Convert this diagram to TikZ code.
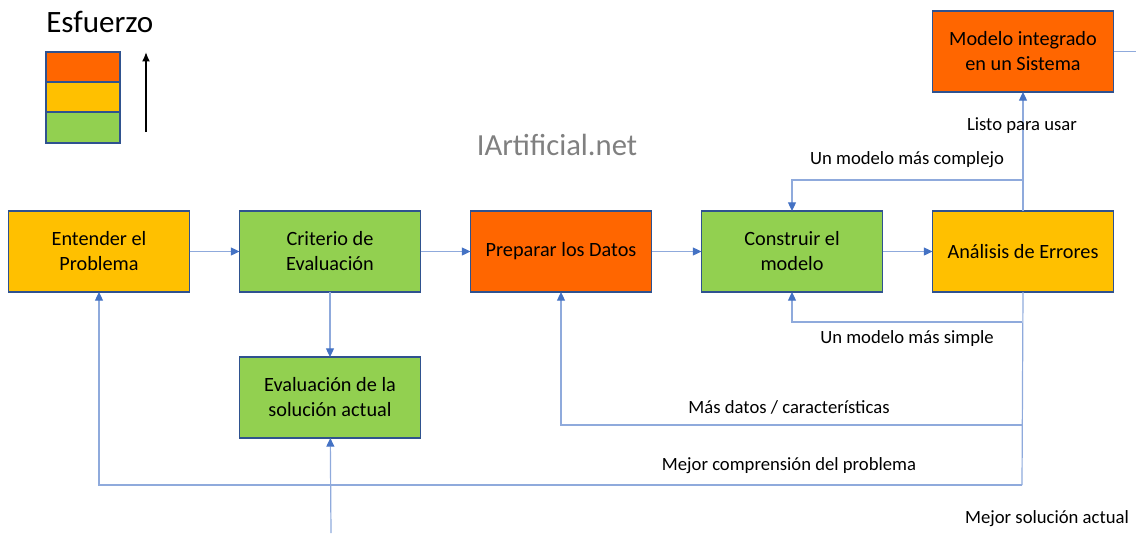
\documentclass[tikz,border=0pt]{standalone}
\usepackage{fontspec}
\setmainfont{Carlito}
\usetikzlibrary{positioning,arrows.meta,calc}
\definecolor{naranja}{HTML}{FF6600}
\definecolor{amarillo}{HTML}{FFC000}
\definecolor{verde}{HTML}{92D050}
\definecolor{borde}{HTML}{2F528F}
\definecolor{linea}{HTML}{8FAADC}
\definecolor{punta}{HTML}{4472C4}
\tikzset{
  paso/.style={draw=borde,line width=1pt,minimum width=135.75pt,minimum height=60.75pt,
    align=center,font=\fontsize{15.2}{18.75}\selectfont,inner sep=2pt,outer sep=0pt},
  flujo/.style={draw=linea,line width=0.9pt},
  flecha/.style={flujo,-{Triangle[width=6pt,length=6.5pt,color=punta]}},
  etiq/.style={font=\fontsize{14}{16}\selectfont,inner sep=0pt}
}
\begin{document}
\begin{tikzpicture}[x=0.75pt,y=-0.75pt,node distance=37.5pt]
  \useasboundingbox (0,0) rectangle (1136,533);
  % leyenda
  \node[font=\fontsize{23.3}{26}\selectfont,anchor=base west,inner sep=0pt] (esfuerzo) at (46,32) {Esfuerzo};
  \draw[borde,line width=1pt,fill=naranja] (46,52) rectangle (120,82);
  \draw[borde,line width=1pt,fill=amarillo] (46,82) rectangle (120,112);
  \draw[borde,line width=1pt,fill=verde] (46,112) rectangle (120,143);
  \draw[line width=1.8pt,-{Latex[length=7pt,width=6pt]}] (146,132) -- (146,52);
  \node[font=\fontsize{23}{26}\selectfont,text=black!50] (marca) at (557,145) {IArtificial.net};
  % pasos
  \node[paso,fill=amarillo] (entender) at (99,251.5) {Entender el\\Problema};
  \node[paso,fill=verde,right=of entender] (criterio) {Criterio de\\Evaluación};
  \node[paso,fill=naranja,right=of criterio] (preparar) {Preparar los Datos};
  \node[paso,fill=verde,right=of preparar] (construir) {Construir el\\modelo};
  \node[paso,fill=amarillo,right=of construir] (analisis) {Análisis de Errores};
  \node[paso,fill=verde,below=48.75pt of criterio] (evaluacion) {Evaluación de la\\solución actual};
  \node[paso,fill=naranja,above=89.25pt of analisis] (modelo) {Modelo integrado\\en un Sistema};
  % puntos de giro
  \coordinate (complejo) at (1022,180);
  \coordinate (simple) at (1022,322);
  \coordinate (datos) at (1022,425);
  \coordinate (comprension) at (1022,485);
  \coordinate (entrada) at (331,533);
  \coordinate (salida) at (1136,51.5);
  % conectores
  \draw[flecha] (entender) -- (criterio);
  \draw[flecha] (criterio) -- (preparar);
  \draw[flecha] (preparar) -- (construir);
  \draw[flecha] (construir) -- (analisis);
  \draw[flecha] (criterio) -- (evaluacion);
  \draw[flecha] (analisis) -- (modelo);
  \draw[flecha] (complejo) -| (construir.north);
  \draw[flujo] (modelo) -- (salida);
  \draw[flujo] (analisis.south) -- (comprension);
  \draw[flecha] (simple) -| (construir.south);
  \draw[flecha] (datos) -| (preparar.south);
  \draw[flecha] (comprension) -| (entender.south);
  \draw[flecha] (entrada) -- (evaluacion);
  % etiquetas
  \node[etiq] (lcomplejo) at (907,160) {Un modelo más complejo};
  \node[etiq] (llisto) at (1022,126) {Listo para usar};
  \node[etiq] (lsimple) at (907,339) {Un modelo más simple};
  \node[etiq] (ldatos) at (789,407) {Más datos / características};
  \node[etiq] (lcomprension) at (789,466) {Mejor comprensión del problema};
  \node[etiq] (lsolucion) at (1047,519) {Mejor solución actual};
\end{tikzpicture}
\end{document}
